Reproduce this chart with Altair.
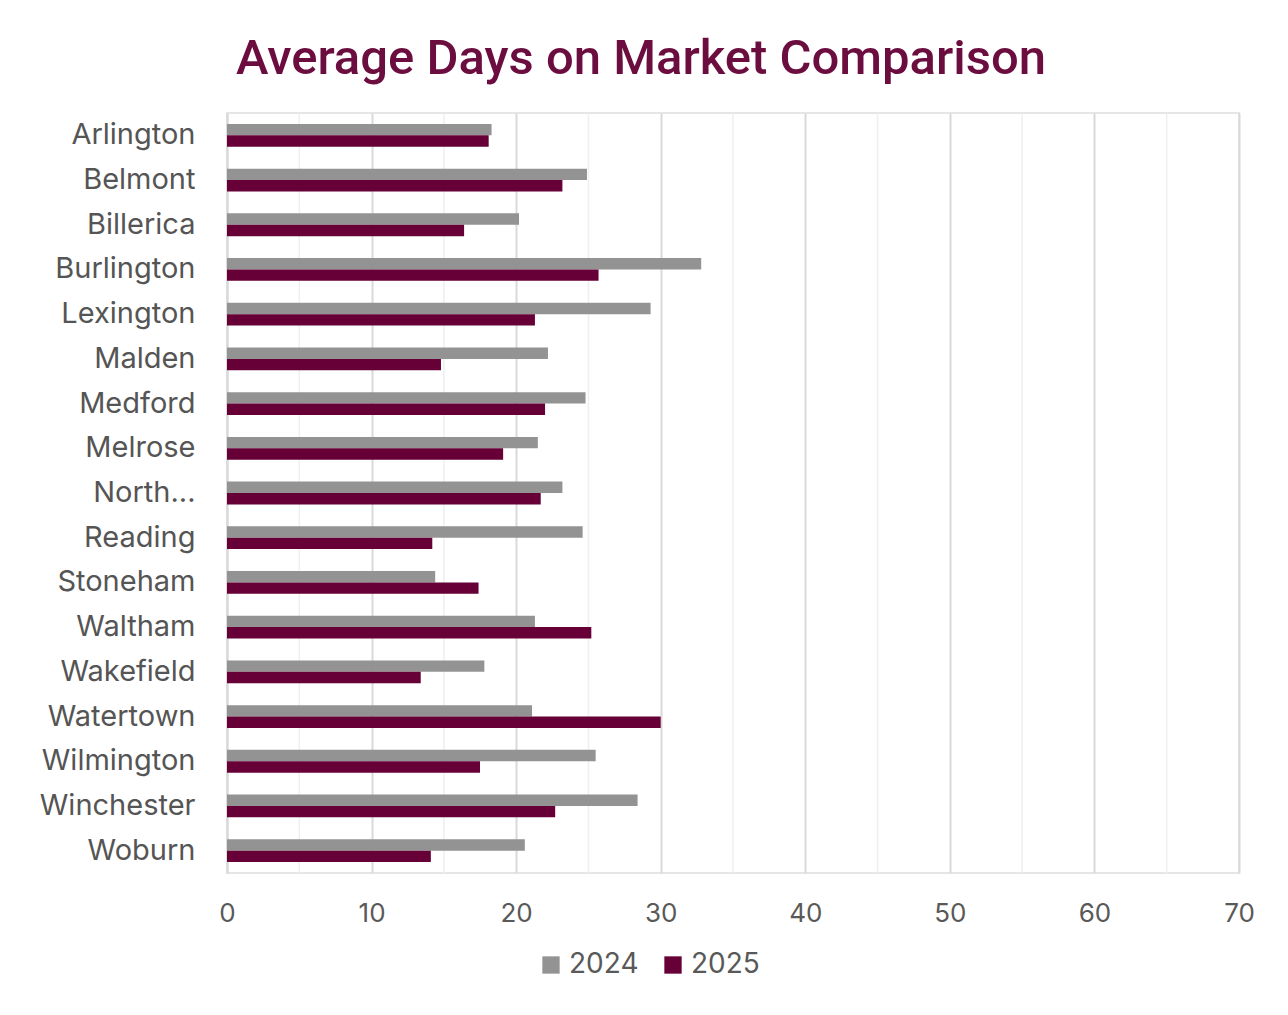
import altair as alt
import pandas as pd

towns = ["Arlington", "Belmont", "Billerica", "Burlington", "Lexington", "Malden",
         "Medford", "Melrose", "North...", "Reading", "Stoneham", "Waltham",
         "Wakefield", "Watertown", "Wilmington", "Winchester", "Woburn"]
days_2024 = [18.3, 24.9, 20.2, 32.8, 29.3, 22.2, 24.8, 21.5, 23.2, 24.6, 14.4, 21.3,
             17.8, 21.1, 25.5, 28.4, 20.6]
days_2025 = [18.1, 23.2, 16.4, 25.7, 21.3, 14.8, 22.0, 19.1, 21.7, 14.2, 17.4, 25.2,
             13.4, 30.0, 17.5, 22.7, 14.1]
years = ["2024", "2025"]
major_ticks = [0, 10, 20, 30, 40, 50, 60, 70]
minor_ticks = [5, 15, 25, 35, 45, 55, 65]

rows = []
for t, a, b in zip(towns, days_2024, days_2025):
    rows.append({"town": t, "year": years[0], "days": a})
    rows.append({"town": t, "year": years[1], "days": b})
df = pd.DataFrame(rows)
minor_df = pd.DataFrame({"v": minor_ticks})

GRAY = "#939393"
MAROON = "#660036"
FONT = "Inter"

xscale = alt.Scale(domain=[0, 70], nice=False)

minor = alt.Chart(minor_df).mark_rule(color="#efefef", strokeWidth=1.5).encode(
    x=alt.X("v:Q", scale=xscale)
)

bars = alt.Chart(df).mark_bar().encode(
    x=alt.X("days:Q", scale=xscale,
            axis=alt.Axis(values=major_ticks, title=None, grid=True, gridColor="#d9d9d9",
                          gridWidth=2, ticks=False, domain=False, labelFontSize=26,
                          labelColor="#595959", labelPadding=27, labelFont=FONT,
                          labelFlush=False)),
    y=alt.Y("town:N", sort=towns,
            scale=alt.Scale(paddingInner=0.49, paddingOuter=0.245),
            axis=alt.Axis(title=None, ticks=False, domain=True, domainColor="#d9d9d9",
                          domainWidth=2, labelFontSize=29, labelColor="#555555",
                          labelPadding=32, labelFont=FONT, labelLimit=300)),
    yOffset=alt.YOffset("year:N", sort=years, scale=alt.Scale(paddingInner=0, paddingOuter=0)),
    color=alt.Color("year:N", sort=years,
                    scale=alt.Scale(domain=years, range=[GRAY, MAROON]),
                    legend=alt.Legend(title=None, orient="none", direction="horizontal",
                                      legendX=310, legendY=838, symbolType="square",
                                      symbolSize=300, symbolStrokeWidth=0,
                                      labelFontSize=28, labelColor="#595959",
                                      labelFont=FONT, columnPadding=20, labelOffset=4)),
)

chart = alt.layer(minor, bars).properties(
    width=1012,
    height=760,
    padding={"left": 219, "top": 105, "right": 41, "bottom": 134},
    autosize=alt.AutoSizeParams(type="none"),
    title=alt.TitleParams("Average Days on Market Comparison", fontSize=49,
                          font="Roboto", fontWeight=500, color="#6B0D3F",
                          anchor="middle", dx=-92, offset=28),
    background="white",
).configure_view(stroke="#e6e6e6", strokeWidth=2)

chart.save("out.html", embed_options={"renderer": "svg", "actions": False})
